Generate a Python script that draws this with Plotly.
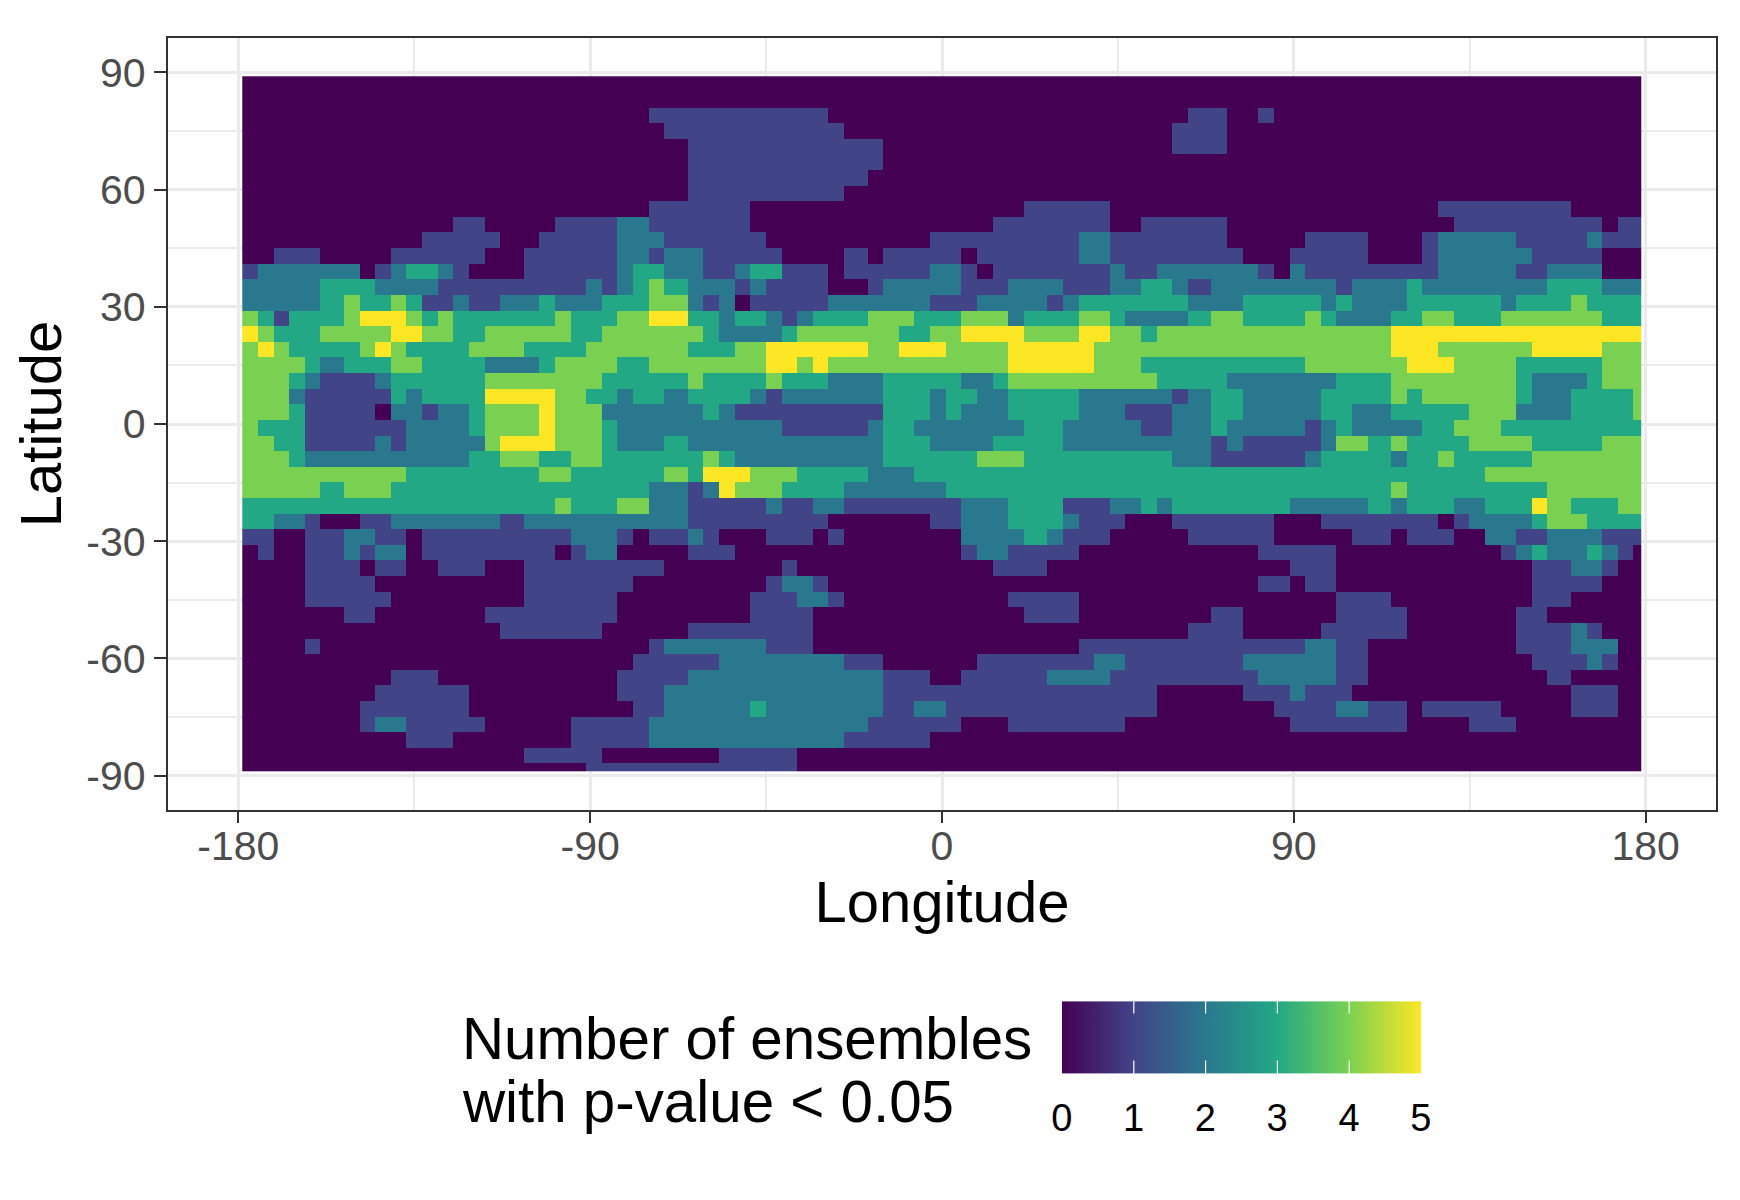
import numpy as np
import plotly.graph_objects as go

# values, about 4 degree blocks, top row first
# each row has three pieces (west, middle, east), short pieces repeat their last digit
rows = [
    "0 0 0",
    "0 0 0",
    "0000000000000000000000000111 1111111100000000000000000000001 100100000000000000000000000",
    "0000000000000000000000000011 1111111110000000000000000000011 100000000000000000000000000",
    "0000000000000000000000000001 1111111111100000000000000000011 100000000000000000000000000",
    "0000000000000000000000000001 1111111111100000000000000000000 0",
    "0000000000000000000000000001 1111111111000000000000000000000 0",
    "0000000000000000000000000001 1111111110000000000000000000000 0",
    "0000000000000000000000000111 1110000000000000000011111000000 000000000000001111111100000",
    "0000000000000110000111122111 1110000000000000001111111001111 100000000000000111111111011",
    "0000000000011111001111122211 1111000000000011111111122111111 100000111100012222211112111",
    "0011100001111110011111122122 1111100001011111011111122111111 110001111100012222221111000",
    "1222222012332100011111123322 1123311101111122101111111211222 222102111111112222211222000",
    "2222233322221111111112123432 2212111100122222111222111223321 222222221222322222222333222",
    "2222234334311211223222333442 1201111122222211122221233333332 223333323222333333233343333",
    "4313334555434333333433344553 3233212333444333444233344322223 443333432223344333444444333",
    "5433344445544334444433444444 3222234444443344555544455443444 444444444445555555555555555",
    "4543333454333344433334444443 3344555555445554444555554444444 444444444445554444445555444",
    "4444323334433332223444433444 4444554544444444444555554443333 333333444444555444433333444",
    "4443211123333334444444333334 3333433322233333223444444444333 322222223334444444432223444",
    "4442111113233335555443323323 3332122222233323322333322222212 332222233334344444432233334",
    "4443111102212234445444222222 3211111111133323222333322211122 332222233223333344422233334",
    "4333111111222234445444322222 2222211111233222222233222221122 322222123222233444333333333",
    "4433111121222224555444322232 2222222222233322223333222222222 121111124434333344443333444",
    "4443222222222233443344333333 4322222222233333344433333333322 111111233332334333334444444",
    "4444444444333333334433333343 5554443333222333333333333333333 333333333333333334444444444",
    "4444434443333333333333333221 2544433332222223333333333333333 333333333334333333333444444",
    "3333333333333333333433344221 1111211221111111222333111223233 333332222232333223335433344",
    "3322100112222222122222222221 1111111100000011222333211100011 111100011111110122223443333",
    "1100112211011111111122210112 1000111010000000222232111000001 111100000110111002211222111",
    "0100112122011111111012200001 1100000000000000122111100000000 000111110000000000123223210",
    "0000111011001110011111111100 0000010000000000001110000000000 000001110000000000001122100",
    "0000111100000000011111110000 0000122100000000000000000000000 000110110000000000001111000",
    "0000111110000000011111100000 0001112210000000000111100000000 000000001110000000001100000",
    "0000001100000001111111100000 0001111000000000000011100000000 110000001111000000011000000",
    "0000000000000000111111000001 1111111000000000000000000000001 110000011111000000011121000",
    "0000100000000000000000000122 2222111000000000000000011111111 111111221100000000011122200",
    "0000000000000000000000001111 1222222221100000011111112211111 112222221100000000001112100",
    "0000000001110000000000011112 2222222222211100111112222111111 111222221100000000000100000",
    "0000000011111100000000011122 2222222222211111111111111111000 001112111000000000000011100",
    "0000000111111100000000001122 2223222222211221111111111111000 000011112211011111000011100",
    "0000000122111110000011111222 2222222222111111000111111100000 000001111111000011100000000",
    "0000000000111000000011111222 2222222221111100000000000000000 0",
    "0000000000000000011111000000 0111110000000000000000000000000 0",
    "0000000000000000000001111111 1111110000000000000000000000000 0",
]
piece_cols = [28, 31, 27]

lons = list(range(-178, 179, 2))
lats = list(range(88, -89, -2))

lon_ticks = [-180, -90, 0, 90, 180]
lon_labels = ["-180", "-90", "0", "90", "180"]
lat_ticks = [-90, -60, -30, 0, 30, 60, 90]
lat_labels = ["-90", "-60", "-30", "0", "30", "60", "90"]

legend_ticks = [0, 1, 2, 3, 4, 5]
colors = ["#440154", "#414487", "#2A788E", "#22A884", "#7AD151", "#FDE725"]


def full_row(text):
    out = ""
    for piece, n in zip(text.split(), piece_cols):
        out += piece[:n].ljust(n, piece[-1])
    return [int(c) for c in out]


blocks = np.array([full_row(r) for r in rows])
block_w = 358 / 85.5
z = []
for j in range(len(lats)):
    row = blocks[j // 2]
    z.append([row[min(int((lon + 179) / block_w), 85)] for lon in lons])

colorscale = [[v / 5, c] for v, c in zip(legend_ticks, colors)]

# the page body adds 8 px round the figure
W, H = 1732, 1192
left, right, top, bottom = 160, 1708, 30, 802
bar_x0, bar_x1, bar_y0, bar_y1 = 1054, 1413, 993, 1065


def px(x):
    return (x - left) / (right - left)


def py(y):
    return 1 - (y - top) / (bottom - top)


fig = go.Figure(go.Heatmap(
    x=lons,
    y=lats,
    z=z,
    zmin=0,
    zmax=5,
    colorscale=colorscale,
    colorbar=dict(
        orientation="h",
        xref="container", yref="container",
        x=1179 / W, xanchor="left",
        y=1 - 1132 / H, yanchor="bottom",
        lenmode="pixels", len=bar_x1 - bar_x0,
        thickness=bar_y1 - bar_y0,
        xpad=0, ypad=0,
        outlinewidth=0,
        tickvals=legend_ticks,
        ticks="outside", ticklen=13, tickcolor="white", tickwidth=1,
        tickfont=dict(size=38, color="black"),
    ),
))

annotations = [
    dict(text="Number of ensembles", x=px(452), y=py(1030), xref="paper", yref="paper",
         xanchor="left", yanchor="middle", showarrow=False, font=dict(size=58.3, color="black")),
    dict(text="with p-value &lt; 0.05", x=px(452), y=py(1093), xref="paper", yref="paper",
         xanchor="left", yanchor="middle", showarrow=False, font=dict(size=58.3, color="black")),
]
# white ticks inside the colour bar, top and bottom
for v in legend_ticks[1:-1]:
    xp = px(bar_x0 + (bar_x1 - bar_x0) * v / 5)
    for yy, ay in [(bar_y0, 14), (bar_y1, -14)]:
        annotations.append(dict(text="", x=xp, y=py(yy), xref="paper", yref="paper",
                                ax=0, ay=ay, axref="pixel", ayref="pixel",
                                showarrow=True, arrowhead=0, arrowwidth=1.2,
                                arrowcolor="white", standoff=0))

axis_style = dict(
    showline=True, mirror=True, linecolor="#333333", linewidth=2.4,
    showgrid=True, gridcolor="#EBEBEB", gridwidth=3.4,
    zeroline=False,
    ticks="outside", tickwidth=2.4, tickcolor="#333333",
    tickfont=dict(size=41, color="#4D4D4D"),
)

fig.update_layout(
    width=W, height=H, autosize=False,
    margin=dict(l=left, r=W - right, t=top, b=H - bottom, pad=0),
    paper_bgcolor="white",
    plot_bgcolor="white",
    font=dict(family="Liberation Sans"),
    annotations=annotations,
)
fig.update_xaxes(
    range=[-198, 198],
    tickvals=lon_ticks, ticktext=lon_labels,
    ticklen=11, ticklabelstandoff=-12,
    title=dict(text="Longitude", font=dict(size=58, color="black"), standoff=12),
    minor=dict(tickvals=[-135, -45, 45, 135], showgrid=True, gridcolor="#EBEBEB", gridwidth=1.7, ticks=""),
    **axis_style,
)
fig.update_yaxes(
    range=[-98.8, 98.8],
    tickvals=lat_ticks, ticktext=lat_labels,
    ticklen=12,
    title=dict(text="Latitude", font=dict(size=58, color="black"), standoff=6),
    minor=dict(tickvals=[-75, -45, -15, 15, 45, 75], showgrid=True, gridcolor="#EBEBEB", gridwidth=1.7, ticks=""),
    **axis_style,
)

fig.write_html("out.html")
